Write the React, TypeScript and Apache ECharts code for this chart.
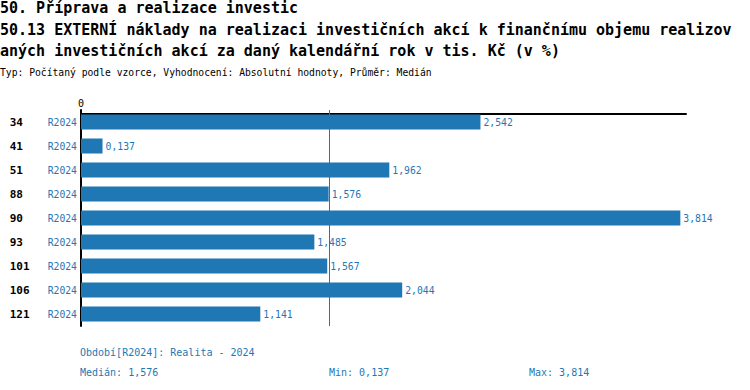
import React, { useEffect, useRef } from "react";
import * as echarts from "echarts";

const categories = ["34", "41", "51", "88", "90", "93", "101", "106", "121"];
const periodLabel = "R2024";
const values = [2.542, 0.137, 1.962, 1.576, 3.814, 1.485, 1.567, 2.044, 1.141];
const medianValue = 1.576;
const minValue = 0.137;
const maxValue = 3.814;
const axisMax = 3.85;

const titleLine1 = "50. Příprava a realizace investic";
const titleLine2 = "50.13 EXTERNÍ náklady na realizaci investičních akcí k finančnímu objemu realizov";
const titleLine3 = "aných investičních akcí za daný kalendářní rok v tis. Kč (v %)";
const subtitle = "Typ: Počítaný podle vzorce, Vyhodnocení: Absolutní hodnoty, Průměr: Medián";
const periodText = "Období[R2024]: Realita - 2024";

const BLUE = "#1f77b4";
const FONT = "DejaVu Sans Mono";

const fmt = (v: number) => v.toFixed(3).replace(".", ",");

export default function App() {
  const ref = useRef<HTMLDivElement>(null);
  useEffect(() => {
    if (!ref.current) return;
    const chart = echarts.init(ref.current, undefined, { renderer: "svg" });
    const txt = (text: string, x: number, y: number, size: number, color: string, bold = false) => ({
      type: "text",
      x,
      y,
      style: {
        text,
        fontFamily: FONT,
        fontSize: size,
        fontWeight: bold ? "bold" : "normal",
        fill: color,
        verticalAlign: "middle",
        align: "left",
      },
    });
    chart.setOption({
      animation: false,
      textStyle: { fontFamily: FONT },
      grid: { left: 81, right: 64, top: 110, height: 216 },
      xAxis: {
        type: "value",
        position: "top",
        offset: -4,
        min: 0,
        max: axisMax,
        axisLine: { show: true, lineStyle: { color: "#000", width: 2 } },
        axisTick: { show: false },
        splitLine: { show: false },
        axisLabel: {
          fontFamily: FONT,
          fontSize: 10,
          color: "#000",
          margin: 6,
          formatter: (v: number) => (v === 0 ? "0" : ""),
        },
      },
      yAxis: {
        type: "category",
        inverse: true,
        data: categories,
        axisLine: { show: true, lineStyle: { color: "#000", width: 2 } },
        axisTick: { show: false },
        axisLabel: {
          margin: 4,
          formatter: (v: string) => `{a|${v}}{b|${periodLabel}}`,
          rich: {
            a: { fontFamily: FONT, fontSize: 11, fontWeight: "bold", color: "#000", width: 38, align: "left" },
            b: { fontFamily: FONT, fontSize: 9.75, color: BLUE },
          },
        },
      },
      series: [
        {
          type: "bar",
          data: values,
          barWidth: 15,
          itemStyle: { color: BLUE },
          label: {
            show: true,
            position: "right",
            distance: 3,
            fontFamily: FONT,
            fontSize: 9.75,
            color: BLUE,
            formatter: (p: any) => fmt(p.value),
          },
          markLine: {
            silent: true,
            symbol: "none",
            label: { show: false },
            lineStyle: { color: BLUE, width: 1, type: "solid" },
            data: [{ xAxis: medianValue }],
          },
        },
      ],
      graphic: [
        txt(titleLine1, 0, 7.5, 15, "#000", true),
        txt(titleLine2, 0, 30.1, 15, "#000", true),
        txt(titleLine3, 0, 50.5, 15, "#000", true),
        txt(subtitle, 0, 72.6, 9.7, "#000"),
        txt(periodText, 80, 352.3, 10, BLUE),
        txt("Medián: " + fmt(medianValue), 80, 372.3, 10, BLUE),
        txt("Min: " + fmt(minValue), 329, 372.3, 10, BLUE),
        txt("Max: " + fmt(maxValue), 529, 372.3, 10, BLUE),
      ],
    });
    return () => chart.dispose();
  }, []);
  return <div ref={ref} style={{ width: 750, height: 390, position: "absolute", left: 0, top: 0 }} />;
}
